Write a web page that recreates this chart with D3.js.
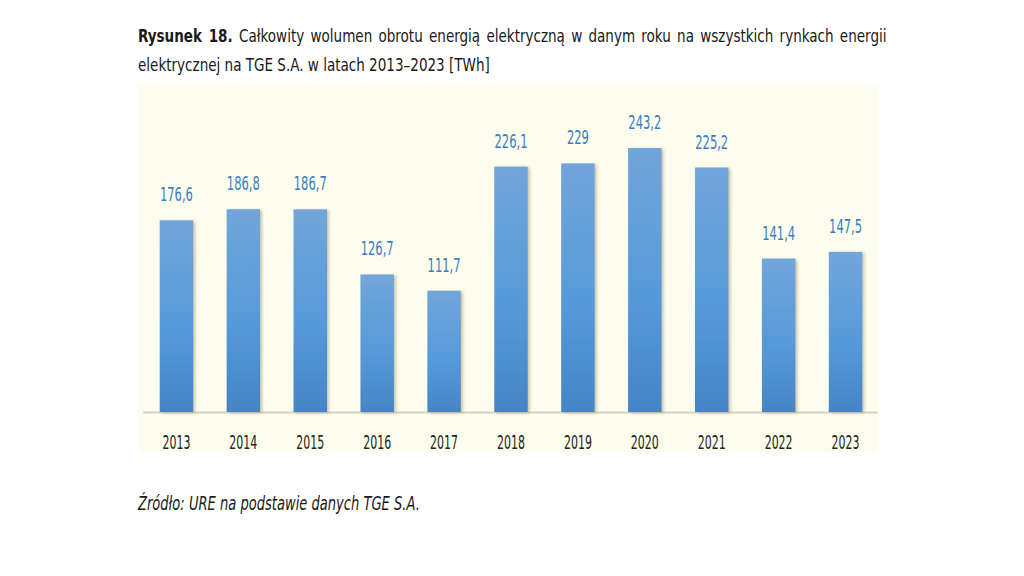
<!DOCTYPE html>
<html>
<head>
<meta charset="utf-8">
<script src="https://cdn.jsdelivr.net/npm/d3@7"></script>
<style>
  body { margin: 0; background: #fff; }
</style>
</head>
<body>
<div id="chart"></div>
<script>
// dane
const years = ['2013', '2014', '2015', '2016', '2017', '2018', '2019', '2020', '2021', '2022', '2023'];
const volumes = [176.6, 186.8, 186.7, 126.7, 111.7, 226.1, 229, 243.2, 225.2, 141.4, 147.5];

const width = 1024, height = 576;
const font = '"DejaVu Sans Condensed", "DejaVu Sans", sans-serif';

const svg = d3.select('#chart').append('svg')
  .attr('width', width)
  .attr('height', height)
  .style('display', 'block');

// narrow the (wide) fallback font so the text takes the width it has in the reference
function squeeze(sel, sx) {
  sel.attr('transform', function () {
    let cx = +d3.select(this).attr('x'), cy = +d3.select(this).attr('y');
    return `translate(${cx},${cy}) scale(${sx},1) translate(${-cx},${-cy})`;
  });
}

// title
let t1 = svg.append('text')
  .attr('x', 138).attr('y', 42)
  .attr('font-family', font).attr('font-size', 18).attr('fill', '#1a1a1a');
t1.append('tspan').attr('font-weight', 'bold').text('Rysunek 18.');
t1.append('tspan').text(' Całkowity wolumen obrotu energią elektryczną w danym roku na wszystkich rynkach energii');

let t2 = svg.append('text')
  .attr('x', 138).attr('y', 71)
  .attr('font-family', font).attr('font-size', 18).attr('fill', '#1a1a1a')
  .text('elektrycznej na TGE S.A. w latach 2013–2023 [TWh]');

let titleScale = 352 / t2.node().getComputedTextLength();
let l1 = t1.node().getComputedTextLength();
let spaces = 12;
t1.attr('word-spacing', (747 / titleScale - l1) / spaces);
squeeze(t1, titleScale);
squeeze(t2, titleScale);

// panel background
svg.append('rect')
  .attr('x', 138).attr('y', 85)
  .attr('width', 740).attr('height', 367)
  .attr('fill', '#fdfdee');

let defs = svg.append('defs');
let grad = defs.append('linearGradient')
  .attr('id', 'barGrad')
  .attr('x1', '0%').attr('y1', '0%')
  .attr('x2', '0%').attr('y2', '100%');
grad.append('stop').attr('offset', '0%').attr('stop-color', '#72a5da');
grad.append('stop').attr('offset', '55%').attr('stop-color', '#579ad9');
grad.append('stop').attr('offset', '100%').attr('stop-color', '#4485c6');

let shadow = defs.append('filter').attr('id', 'shadow')
  .attr('x', '-20%').attr('y', '-5%').attr('width', '150%').attr('height', '110%');
shadow.append('feDropShadow')
  .attr('dx', 2).attr('dy', 1).attr('stdDeviation', 1.5)
  .attr('flood-color', '#8a7a50').attr('flood-opacity', 0.45);

const x = d3.scaleBand()
  .domain(years)
  .range([143, 879])
  .paddingInner(0.5)
  .paddingOuter(0.25);

const y = d3.scaleLinear()
  .domain([0, 243.2])
  .range([412, 148]);

// baseline
svg.append('line')
  .attr('x1', 143).attr('x2', 878)
  .attr('y1', y(0) + 0.5).attr('y2', y(0) + 0.5)
  .attr('stroke', '#d8d2c4').attr('stroke-width', 2);

svg.selectAll('.bar')
  .data(volumes)
  .enter().append('rect')
  .attr('class', 'bar')
  .attr('x', (d, i) => x(years[i]))
  .attr('y', d => y(d))
  .attr('width', x.bandwidth())
  .attr('height', d => y(0) - y(d))
  .attr('fill', 'url(#barGrad)')
  .attr('filter', 'url(#shadow)');

let values = svg.selectAll('.value')
  .data(volumes)
  .enter().append('text')
  .attr('class', 'value')
  .attr('x', (d, i) => x(years[i]) + x.bandwidth() / 2)
  .attr('y', d => y(d) - 19)
  .attr('text-anchor', 'middle')
  .attr('font-family', font)
  .attr('font-size', 19)
  .attr('fill', '#3a7cc4')
  .text(d => String(d).replace('.', ','));
squeeze(values, 33 / values.node().getComputedTextLength());

let yearLabels = svg.selectAll('.year')
  .data(years)
  .enter().append('text')
  .attr('class', 'year')
  .attr('x', d => x(d) + x.bandwidth() / 2)
  .attr('y', 449)
  .attr('text-anchor', 'middle')
  .attr('font-family', font)
  .attr('font-size', 19)
  .attr('fill', '#222')
  .text(d => d);
squeeze(yearLabels, 28 / yearLabels.node().getComputedTextLength());

let source = svg.append('text')
  .attr('x', 138).attr('y', 510)
  .attr('font-family', font)
  .attr('font-size', 19)
  .attr('font-style', 'italic')
  .attr('fill', '#1a1a1a')
  .text('Źródło: URE na podstawie danych TGE S.A.');
squeeze(source, 282 / source.node().getComputedTextLength());
</script>
</body>
</html>
